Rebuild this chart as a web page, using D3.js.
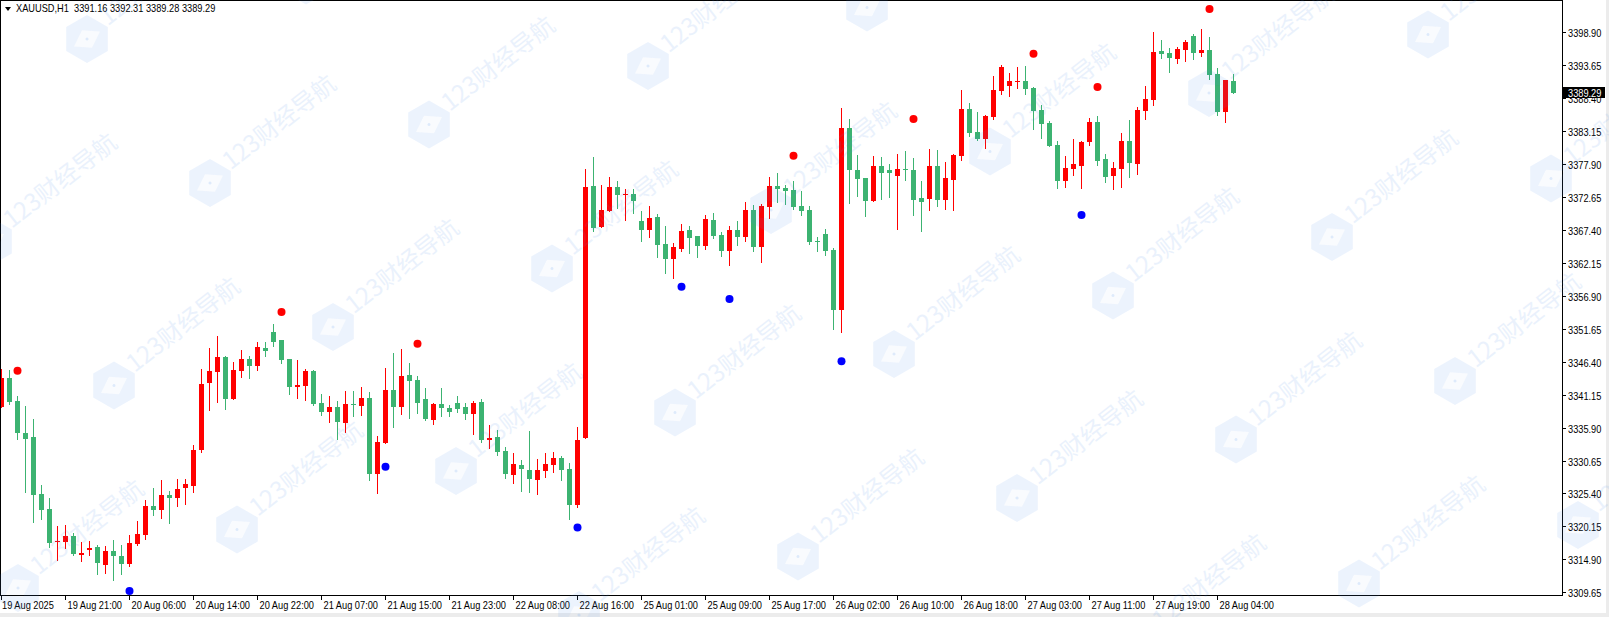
<!DOCTYPE html>
<html lang="zh">
<head>
<meta charset="UTF-8">
<title>XAUUSD,H1</title>
<script src="https://cdn.jsdelivr.net/npm/d3@7/dist/d3.min.js"></script>
<style>
  body { margin: 0; background: #fff; }
  svg { display: block; }
</style>
</head>
<body>
<div id="chart"></div>
<script>
// symbol / timeframe shown in the top left corner
var symbol = "XAUUSD,H1";

// hourly bars, 19 Aug 13:00 .. 28 Aug 06:00
var opens = [3339.24,3343.75,3340.14,3334.99,3334.46,3325.32,3322.93,3317.72,3317.72,3318.63,
  3315.60,3316.39,3316.87,3314.00,3316.24,3315.44,3314.16,3317.35,3318.79,3323.41,
  3322.77,3325.16,3324.73,3326.33,3326.65,3332.33,3343.06,3344.82,3347.15,3340.46,
  3344.92,3346.83,3345.77,3348.59,3351.14,3349.86,3346.83,3342.43,3342.53,3344.98,
  3339.82,3338.39,3339.18,3336.63,3339.66,3339.34,3340.62,3328.51,3333.45,3341.89,
  3339.18,3344.28,3343.49,3340.46,3337.11,3339.66,3339.03,3339.82,3339.18,3338.07,
  3339.98,3333.93,3334.40,3332.17,3328.35,3329.94,3329.14,3327.55,3328.98,3329.94,
  3331.06,3329.30,3323.57,3334.30,3374.41,3367.92,3370.47,3374.25,3373.02,3373.13,
  3368.83,3367.45,3369.46,3365.16,3362.82,3364.42,3367.39,3366.44,3364.84,3368.99,
  3366.60,3364.10,3367.39,3366.33,3370.58,3364.74,3371.11,3374.41,3374.09,3373.77,
  3371.22,3370.58,3365.69,3366.76,3364.21,3354.70,3383.65,3377.01,3375.68,3372.07,
  3377.59,3376.96,3376.05,3377.11,3376.96,3372.49,3372.39,3377.59,3372.23,3375.41,
  3379.24,3386.68,3383.01,3381.95,3385.45,3389.60,3390.40,3391.03,3391.14,3390.02,
  3386.52,3384.45,3380.99,3375.26,3377.17,3377.65,3381.42,3384.61,3378.71,3376.05,
  3377.17,3381.58,3377.96,3386.41,3388.16,3395.92,3395.60,3394.70,3396.13,3398.31,
  3395.65,3396.08,3392.25,3386.25,3391.16];
var highs = [3345.24,3345.08,3340.94,3339.34,3337.33,3326.75,3324.68,3320.22,3320.38,3319.16,
  3317.67,3317.88,3317.19,3317.03,3317.99,3317.19,3318.79,3321.07,3324.36,3326.28,
  3327.55,3325.80,3327.71,3327.71,3333.13,3345.24,3348.59,3350.50,3347.31,3346.36,
  3348.27,3347.31,3349.54,3349.54,3352.41,3349.86,3346.83,3346.68,3345.24,3345.08,
  3341.26,3340.94,3340.14,3341.73,3341.73,3342.37,3341.58,3334.56,3345.40,3347.79,
  3348.43,3346.20,3344.13,3342.21,3339.82,3342.21,3339.50,3340.94,3339.82,3340.14,
  3340.46,3336.32,3335.52,3332.81,3331.85,3330.74,3335.36,3330.90,3331.85,3332.01,
  3331.38,3330.26,3336.00,3377.11,3379.03,3374.56,3375.84,3375.20,3373.93,3373.93,
  3370.42,3371.22,3369.94,3368.03,3365.32,3368.35,3368.03,3366.44,3369.78,3370.10,
  3367.07,3368.03,3368.83,3371.86,3371.38,3371.54,3375.84,3376.48,3374.56,3375.20,
  3373.61,3371.22,3366.33,3367.55,3364.58,3386.84,3385.08,3379.35,3375.68,3379.19,
  3379.03,3377.91,3379.50,3379.98,3378.87,3375.20,3380.30,3380.14,3378.23,3379.50,
  3389.70,3387.63,3386.20,3385.72,3391.90,3393.69,3392.41,3393.37,3393.53,3390.24,
  3387.37,3384.76,3381.63,3379.19,3381.90,3381.58,3385.24,3385.56,3379.51,3378.23,
  3382.85,3384.92,3387.00,3390.34,3398.95,3397.67,3396.40,3396.56,3397.73,3398.63,
  3399.43,3398.15,3393.21,3391.30,3392.31];
var lows = [3339.24,3339.61,3334.14,3325.69,3320.91,3321.34,3316.93,3314.80,3316.66,3315.54,
  3314.69,3315.60,3312.57,3312.78,3311.61,3312.57,3313.84,3317.19,3318.09,3321.97,
  3321.55,3320.75,3323.46,3323.73,3325.69,3332.07,3338.71,3340.03,3338.92,3340.46,
  3344.02,3343.81,3345.08,3347.31,3348.91,3346.25,3341.26,3340.62,3340.35,3339.50,
  3337.91,3336.79,3334.08,3335.20,3337.75,3337.91,3327.55,3325.48,3333.45,3336.00,
  3338.07,3337.43,3338.23,3337.11,3336.48,3337.75,3337.75,3338.39,3337.27,3334.88,
  3333.61,3332.65,3331.53,3327.87,3327.07,3325.80,3325.64,3325.32,3328.03,3328.83,
  3327.55,3321.34,3323.25,3334.30,3367.29,3367.92,3370.47,3370.90,3368.99,3370.16,
  3365.69,3366.33,3363.14,3360.59,3359.80,3364.10,3363.78,3363.04,3364.42,3366.17,
  3363.30,3361.87,3365.06,3365.69,3364.10,3362.35,3369.36,3371.86,3371.54,3370.74,
  3369.84,3365.21,3364.10,3363.46,3351.67,3351.19,3371.75,3372.86,3369.68,3372.07,
  3372.39,3372.71,3367.60,3375.41,3369.84,3367.29,3370.63,3371.27,3370.79,3370.63,
  3378.60,3382.43,3381.79,3380.51,3385.14,3389.12,3388.80,3390.08,3389.12,3383.54,
  3382.11,3380.83,3374.14,3374.30,3376.21,3374.14,3380.99,3377.81,3375.10,3373.98,
  3374.30,3375.89,3376.37,3385.14,3387.37,3394.86,3392.63,3394.06,3394.38,3394.70,
  3395.18,3391.51,3385.77,3384.66,3389.28];
var closes = [3343.75,3340.03,3334.99,3334.14,3325.16,3322.77,3317.56,3317.88,3318.63,3315.76,
  3315.86,3316.71,3314.38,3316.24,3315.44,3314.16,3317.51,3318.94,3323.41,3322.77,
  3325.16,3324.68,3326.12,3326.97,3332.33,3342.85,3344.92,3347.15,3340.46,3345.08,
  3346.83,3345.77,3348.75,3348.16,3349.54,3346.68,3342.37,3342.69,3344.98,3339.66,
  3338.39,3339.18,3336.79,3339.66,3339.50,3340.62,3328.51,3333.61,3341.89,3339.18,
  3344.13,3343.33,3339.82,3337.27,3339.66,3339.03,3338.39,3338.87,3338.07,3339.82,
  3333.93,3334.24,3332.01,3328.51,3330.10,3329.30,3327.71,3329.14,3330.10,3331.06,
  3329.14,3323.57,3333.93,3374.25,3367.76,3370.58,3374.25,3373.02,3373.18,3372.07,
  3367.45,3369.31,3365.06,3362.82,3364.68,3367.23,3366.17,3364.84,3369.15,3366.49,
  3364.10,3367.39,3366.33,3370.58,3364.74,3371.22,3374.41,3373.98,3373.66,3371.11,
  3370.47,3365.53,3365.53,3364.10,3354.70,3383.65,3377.01,3375.57,3372.07,3377.59,
  3376.53,3376.53,3377.11,3376.90,3372.23,3371.91,3377.59,3372.23,3375.68,3379.35,
  3386.68,3382.85,3381.90,3385.61,3389.70,3393.37,3391.14,3391.14,3389.92,3386.41,
  3384.34,3380.83,3375.26,3377.27,3377.91,3381.42,3384.61,3378.44,3375.89,3377.27,
  3381.58,3378.12,3386.52,3388.27,3395.76,3395.50,3394.86,3396.24,3397.35,3395.65,
  3396.08,3392.15,3386.25,3391.30,3389.29];

// fractal style markers (bar index, price)
var upMarkIdx = [2, 35, 52, 99, 114, 129, 137, 151];
var upMarkVal = [3344.97, 3354.32, 3349.27, 3379.24, 3385.08, 3395.49, 3390.18, 3402.61];
var downMarkIdx = [16, 48, 72, 85, 91, 105, 135];
var downMarkVal = [3309.86, 3329.67, 3319.97, 3358.36, 3356.40, 3346.49, 3369.78];

// time axis labels and the bar they sit on
var timeTickIdx = [0, 8, 16, 24, 32, 40, 48, 56, 64, 72, 80, 88, 96, 104, 112, 120, 128, 136, 144, 152];
var timeTickLabels = ["19 Aug 2025", "19 Aug 21:00", "20 Aug 06:00", "20 Aug 14:00", "20 Aug 22:00",
  "21 Aug 07:00", "21 Aug 15:00", "21 Aug 23:00", "22 Aug 08:00", "22 Aug 16:00",
  "25 Aug 01:00", "25 Aug 09:00", "25 Aug 17:00", "26 Aug 02:00", "26 Aug 10:00",
  "26 Aug 18:00", "27 Aug 03:00", "27 Aug 11:00", "27 Aug 19:00", "28 Aug 04:00"];

// price axis labels
var priceTicks = [3309.65, 3314.90, 3320.15, 3325.40, 3330.65, 3335.90, 3341.15, 3346.40, 3351.65,
  3356.90, 3362.15, 3367.40, 3372.65, 3377.90, 3383.15, 3388.40, 3393.65, 3398.90];

var watermarkText = "123财经导航";

var W = 1609, H = 617;
var plotW = 1562, plotH = 595;
var upColor = "#ff0000", downColor = "#3cb371";
var font = "'Liberation Sans', Arial, sans-serif";
var squeeze = 0.84;   // terminal font is narrower than Arial

var svg = d3.select("#chart").append("svg")
  .attr("width", W)
  .attr("height", H);

svg.append("rect").attr("width", W).attr("height", H).attr("fill", "#fff");

var x = d3.scaleLinear().domain([0, opens.length - 1]).range([1.5, 1.5 + 8 * (opens.length - 1)]);
var y = d3.scaleLinear().domain([3309.65, 3398.90]).range([592.3, 32.3]);

function fitText(sel) {
  sel.each(function () {
    var w = this.getComputedTextLength();
    d3.select(this).attr("textLength", (w * squeeze).toFixed(1)).attr("lengthAdjust", "spacingAndGlyphs");
  });
}

// ---- candles
var bars = d3.range(opens.length).map(function (i) {
  return { i: i, o: opens[i], h: highs[i], l: lows[i], c: closes[i] };
});

var plot = svg.append("g");

plot.selectAll("line.wick")
  .data(bars)
  .enter()
  .append("line")
    .attr("class", "wick")
    .attr("x1", function (d) { return x(d.i); })
    .attr("x2", function (d) { return x(d.i); })
    .attr("y1", function (d) { return Math.round(y(d.h)); })
    .attr("y2", function (d) { return Math.round(y(d.l)) + 1; })
    .attr("stroke", function (d) { return d.c >= d.o ? upColor : downColor; })
    .attr("stroke-width", 1)
    .attr("shape-rendering", "crispEdges");

plot.selectAll("rect.body")
  .data(bars)
  .enter()
  .append("rect")
    .attr("class", "body")
    .attr("x", function (d) { return x(d.i) - 2.5; })
    .attr("y", function (d) { return Math.round(y(Math.max(d.o, d.c))); })
    .attr("width", 5)
    .attr("height", function (d) {
      var hh = Math.round(y(Math.min(d.o, d.c))) - Math.round(y(Math.max(d.o, d.c)));
      return Math.max(1, hh);
    })
    .attr("fill", function (d) { return d.c >= d.o ? upColor : downColor; })
    .attr("shape-rendering", "crispEdges");

// ---- markers
plot.selectAll("circle.up")
  .data(upMarkIdx)
  .enter()
  .append("circle")
    .attr("cx", function (d) { return x(d); })
    .attr("cy", function (d, k) { return y(upMarkVal[k]); })
    .attr("r", 4)
    .attr("fill", "#ff0000");

plot.selectAll("circle.down")
  .data(downMarkIdx)
  .enter()
  .append("circle")
    .attr("cx", function (d) { return x(d); })
    .attr("cy", function (d, k) { return y(downMarkVal[k]); })
    .attr("r", 4)
    .attr("fill", "#0000ff");

// ---- frame
svg.append("rect")
  .attr("x", 0.5).attr("y", 0.5)
  .attr("width", plotW).attr("height", plotH)
  .attr("fill", "none")
  .attr("stroke", "#000")
  .attr("shape-rendering", "crispEdges");

// price axis
var py = svg.append("g");
priceTicks.forEach(function (v) {
  var ty = Math.round(y(v)) + 0.5;
  py.append("line")
    .attr("x1", plotW + 0.5).attr("x2", plotW + 4)
    .attr("y1", ty).attr("y2", ty)
    .attr("stroke", "#000");
  py.append("text")
    .attr("x", plotW + 6)
    .attr("y", ty + 4)
    .attr("font-family", font)
    .attr("font-size", "11px")
    .attr("fill", "#000")
    .text(v.toFixed(2))
    .call(fitText);
});

// time axis
var tx = svg.append("g");
timeTickIdx.forEach(function (idx, k) {
  var px = x(idx);
  tx.append("line")
    .attr("x1", px).attr("x2", px)
    .attr("y1", plotH + 0.5).attr("y2", plotH + 5)
    .attr("stroke", "#000")
    .attr("shape-rendering", "crispEdges");
  tx.append("text")
    .attr("x", px + (k === 0 ? 0.5 : 2))
    .attr("y", plotH + 14)
    .attr("font-family", font)
    .attr("font-size", "11px")
    .attr("fill", "#000")
    .text(timeTickLabels[k])
    .call(fitText);
});

// current price tag (drawn over the 3388.40 label, as in the terminal)
var last = bars[bars.length - 1];
var lastY = Math.round(y(last.c));
svg.append("rect")
  .attr("x", plotW + 1).attr("y", lastY - 6)
  .attr("width", 42).attr("height", 11)
  .attr("fill", "#000");
svg.append("text")
  .attr("x", plotW + 6)
  .attr("y", lastY + 4)
  .attr("font-family", font)
  .attr("font-size", "11px")
  .attr("fill", "#fff")
  .text(last.c.toFixed(2))
  .call(fitText);

// header
svg.append("path")
  .attr("d", "M5,7 L11,7 L8,11 Z")
  .attr("fill", "#000");
svg.append("text")
  .attr("x", 16)
  .attr("y", 12)
  .attr("font-family", font)
  .attr("font-size", "11px")
  .attr("fill", "#000")
  .attr("xml:space", "preserve")
  .text(symbol + "  " + [last.o, last.h, last.l, last.c].map(function (v) { return v.toFixed(2); }).join(" "))
  .call(fitText);

// window edge
svg.append("rect").attr("x", W - 3).attr("y", 0).attr("width", 3).attr("height", H).attr("fill", "#ececec");
svg.append("rect").attr("x", 0).attr("y", H - 4).attr("width", W).attr("height", 4).attr("fill", "#ececec");

// ---- watermark, tiled over everything
var wm = svg.append("g").attr("pointer-events", "none");
var hex = d3.range(6).map(function (k) {
  var a = Math.PI / 3 * k;
  return [Math.cos(a) * 24, Math.sin(a) * 24];
});
var hexPath = "M" + hex.join("L") + "Z";
var rhombPath = "M-15,0L0,-10L15,0L0,10Z";
for (var m = -2; m <= 6; m++) {
  for (var n = -3; n <= 9; n++) {
    var cx = 87 + 123 * m + 219 * n;
    var cy = 39 + 144 * m - 58.5 * n;
    if (cx < -80 || cx > W + 20 || cy < -90 || cy > H + 40) continue;
    var g = wm.append("g").attr("transform", "translate(" + cx + "," + cy + ")");
    var ic = g.append("g").attr("transform", "rotate(-30)");
    ic.append("path")
      .attr("d", hexPath + rhombPath)
      .attr("fill-rule", "evenodd")
      .attr("fill", "#468ceb")
      .attr("opacity", 0.1);
    ic.append("path")
      .attr("d", rhombPath)
      .attr("fill", "#468ceb")
      .attr("opacity", 0.03);
    ic.append("circle").attr("r", 1.5).attr("fill", "#468ceb").attr("opacity", 0.15);
    g.append("text")
      .attr("transform", "rotate(-38)")
      .attr("x", 24)
      .attr("y", 3)
      .attr("font-family", "'Noto Sans CJK SC', 'Noto Sans', sans-serif")
      .attr("font-size", "24px")
      .attr("fill", "#468ceb")
      .attr("opacity", 0.11)
      .text(watermarkText);
  }
}
</script>
</body>
</html>
